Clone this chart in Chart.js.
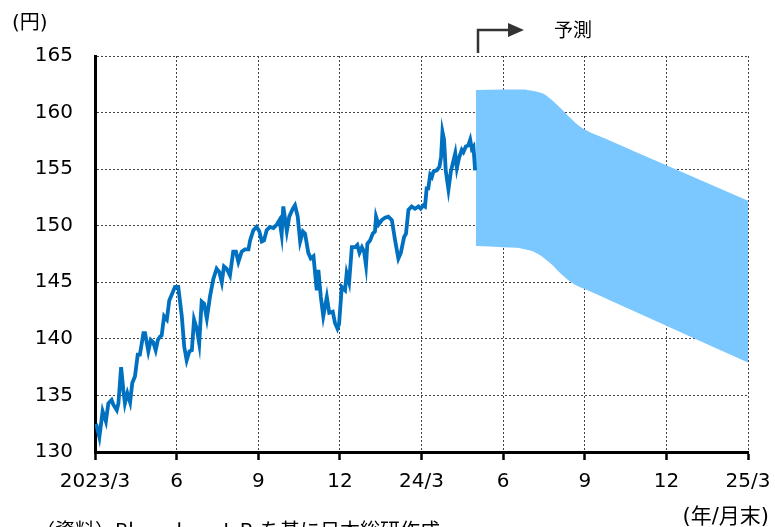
<!DOCTYPE html>
<html>
<head>
<meta charset="utf-8">
<script src="https://cdn.jsdelivr.net/npm/chart.js@4/dist/chart.umd.min.js"></script>
<style>
  html, body { margin: 0; padding: 0; background: #fff; }
  #fxChart { display: block; }
</style>
</head>
<body>
<canvas id="fxChart" width="775" height="527"></canvas>
<script>
// USD/JPY: actual rate (months after end of 2023/3) and forecast range
const tickLabels = ["2023/3", "6", "9", "12", "24/3", "6", "9", "12", "25/3"];

const actualMonths = [
  0.04, 0.16, 0.28, 0.40, 0.49, 0.61, 0.67, 0.80, 0.86, 0.96, 1.04, 1.10, 1.19, 1.29, 1.37, 1.47,
  1.57, 1.65, 1.78, 1.84, 1.96, 2.05, 2.14, 2.23, 2.31, 2.39, 2.45, 2.54, 2.64, 2.73, 2.82, 2.94,
  3.06, 3.19, 3.28, 3.37, 3.47, 3.56, 3.64, 3.74, 3.83, 3.92, 4.01, 4.11, 4.23, 4.35, 4.47, 4.57,
  4.66, 4.74, 4.84, 4.96, 5.08, 5.18, 5.27, 5.39, 5.51, 5.64, 5.70, 5.82, 5.94, 6.04, 6.13, 6.21,
  6.31, 6.43, 6.56, 6.68, 6.78, 6.86, 6.92, 7.05, 7.14, 7.27, 7.35, 7.45, 7.54, 7.64, 7.72, 7.84,
  7.93, 8.03, 8.15, 8.21, 8.30, 8.39, 8.52, 8.61, 8.74, 8.82, 8.91, 8.97, 9.07, 9.19, 9.25, 9.34,
  9.44, 9.56, 9.64, 9.72, 9.81, 9.89, 9.96, 10.01, 10.11, 10.21, 10.29, 10.33, 10.42, 10.54, 10.66, 10.78,
  10.91, 11.03, 11.15, 11.24, 11.36, 11.43, 11.52, 11.64, 11.76, 11.89, 11.97, 12.07, 12.13, 12.19, 12.25, 12.32,
  12.38, 12.44, 12.56, 12.66, 12.72, 12.77, 12.83, 12.89, 12.99, 13.08, 13.15, 13.24, 13.30, 13.38, 13.48, 13.54,
  13.63, 13.72, 13.79, 13.85, 13.91, 13.97
];
const actualYen = [
  132.5, 131.3, 133.6, 132.7, 134.3, 134.6, 134.2, 133.7, 134.3, 137.5, 135.5, 134.3, 135.2, 134.4, 136.1, 136.7,
  138.6, 138.6, 140.5, 140.5, 138.9, 139.9, 139.7, 139.0, 139.9, 140.2, 140.3, 142.0, 141.7, 143.4, 143.9, 144.6,
  144.6, 142.0, 139.3, 138.1, 138.9, 139.0, 141.7, 140.9, 139.6, 143.3, 143.1, 141.8, 143.8, 145.3, 146.2, 145.9,
  145.0, 146.4, 146.2, 145.6, 147.7, 147.7, 146.8, 147.7, 147.9, 147.9, 148.7, 149.6, 149.9, 149.5, 148.6, 148.7,
  149.6, 149.9, 149.8, 150.1, 150.5, 149.2, 151.7, 149.5, 150.8, 151.5, 151.8, 150.8, 148.6, 149.5, 149.3, 147.6,
  147.1, 147.3, 144.3, 146.1, 143.7, 142.0, 143.7, 142.3, 142.4, 141.4, 140.9, 141.3, 144.6, 144.3, 145.8, 145.0,
  148.1, 148.1, 148.3, 147.6, 148.1, 147.7, 146.5, 148.4, 148.7, 149.3, 149.5, 150.8, 150.1, 150.5, 150.7, 150.8,
  150.5, 148.7, 147.1, 147.6, 149.0, 149.3, 151.4, 151.7, 151.5, 151.7, 151.5, 151.8, 151.7, 153.3, 153.3, 154.5,
  154.3, 154.8, 154.9, 155.2, 156.1, 158.3, 157.6, 154.9, 153.2, 154.8, 155.5, 156.4, 155.1, 156.0, 156.7, 156.5,
  157.0, 157.1, 157.6, 156.8, 157.0, 154.9
];

const forecastMonths = [14, 15, 15.5, 15.75, 16, 16.25, 16.5, 16.75, 17, 17.25, 17.5, 17.75, 18, 19, 21, 24];
const forecastHigh = [162.0, 162.05, 162.05, 162.05, 161.95, 161.85, 161.65, 161.2, 160.65, 160.05, 159.45, 158.9, 158.5, 157.45, 155.35, 152.2];
const forecastLow = [148.2, 148.1, 148.05, 147.95, 147.8, 147.55, 147.15, 146.65, 146.05, 145.5, 145.0, 144.65, 144.4, 143.32, 141.15, 137.9];

const LINE_BLUE = "#0070c0";
const BAND_BLUE = "#7ac8ff";
const LATIN = "'DejaVu Sans', 'Noto Sans CJK JP', sans-serif";
const JP = "'Noto Sans CJK JP', 'DejaVu Sans', sans-serif";

const toPoints = (xs, ys) => xs.map((x, i) => ({ x, y: ys[i] }));

// captions and the forecast arrow
const annotations = {
  id: "annotations",
  afterDraw(chart) {
    const ctx = chart.ctx;
    ctx.save();
    ctx.fillStyle = "#000";
    ctx.textBaseline = "alphabetic";

    ctx.font = "20px " + LATIN;
    ctx.textAlign = "left";
    ctx.fillText("(円)", 12, 29);

    ctx.font = "19px " + JP;
    ctx.fillText("予測", 554, 37);

    ctx.textAlign = "right";
    ctx.font = "21px " + LATIN;
    ctx.fillText("(年/月末)", 769, 523);

    ctx.textAlign = "left";
    ctx.font = "20px " + JP;
    ctx.fillText("（資料）Bloomberg L.P. を基に日本総研作成", 35, 538);

    // arrow marking where the forecast starts
    ctx.strokeStyle = "#333";
    ctx.fillStyle = "#333";
    ctx.lineWidth = 2.5;
    ctx.beginPath();
    ctx.moveTo(478, 53);
    ctx.lineTo(478, 30);
    ctx.lineTo(509, 30);
    ctx.stroke();
    ctx.beginPath();
    ctx.moveTo(508, 23);
    ctx.lineTo(524, 30);
    ctx.lineTo(508, 37);
    ctx.closePath();
    ctx.fill();
    ctx.restore();
  },
};

new Chart(document.getElementById("fxChart"), {
  type: "line",
  data: {
    datasets: [
      {
        label: "actual",
        data: toPoints(actualMonths, actualYen),
        borderColor: LINE_BLUE,
        borderWidth: 3.8,
        pointRadius: 0,
        tension: 0,
        fill: false,
      },
      {
        label: "high",
        data: toPoints(forecastMonths, forecastHigh),
        borderWidth: 0,
        borderColor: "rgba(0,0,0,0)",
        pointRadius: 0,
        cubicInterpolationMode: "monotone",
        fill: false,
      },
      {
        label: "low",
        data: toPoints(forecastMonths, forecastLow),
        borderWidth: 0,
        borderColor: "rgba(0,0,0,0)",
        backgroundColor: BAND_BLUE,
        pointRadius: 0,
        cubicInterpolationMode: "monotone",
        fill: "-1",
      },
    ],
  },
  options: {
    responsive: false,
    animation: false,
    devicePixelRatio: 1,
    layout: { padding: { top: 56, right: 27, bottom: 0, left: 0 } },
    plugins: { legend: { display: false }, tooltip: { enabled: false } },
    scales: {
      x: {
        type: "linear",
        min: 0,
        max: 24,
        afterFit: (scale) => {
          scale.height = 75;
          scale.paddingLeft = 0;
          scale.paddingRight = 0;
        },
        ticks: {
          stepSize: 3,
          maxRotation: 0,
          autoSkip: false,
          padding: 10,
          color: "#000",
          font: { family: LATIN, size: 20 },
          callback: (value) => tickLabels[Math.round(value / 3)],
        },
        grid: {
          color: "#444",
          lineWidth: 1,
          drawTicks: true,
          tickLength: 8,
          tickColor: "#000",
          tickWidth: 2.5,
          tickBorderDash: [],
        },
        border: { display: true, color: "#000", width: 3, dash: [2, 2] },
      },
      y: {
        min: 130,
        max: 165,
        afterFit: (scale) => {
          scale.width = 95;
          scale.paddingTop = 0;
          scale.paddingBottom = 0;
        },
        ticks: {
          stepSize: 5,
          padding: 22,
          color: "#000",
          font: { family: LATIN, size: 20 },
        },
        grid: { color: "#444", lineWidth: 1, drawTicks: false },
        border: { display: true, color: "#000", width: 3, dash: [2, 2] },
      },
    },
  },
  plugins: [annotations],
});
</script>
</body>
</html>
